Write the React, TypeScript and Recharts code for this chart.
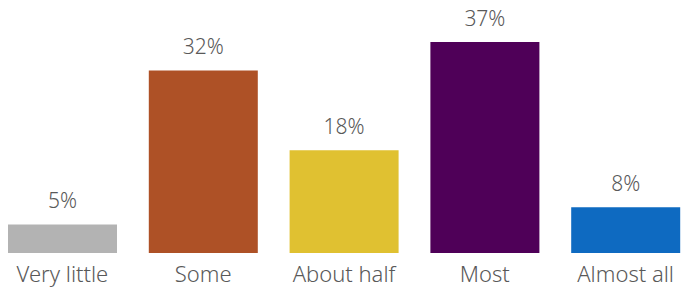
import { BarChart, Bar, XAxis, YAxis, Cell, LabelList } from 'recharts'

const categories = ['Very little', 'Some', 'About half', 'Most', 'Almost all']
const shares = [5, 32, 18, 37, 8]
const barColors = ['#b3b3b3', '#ae5126', '#e0c131', '#4f0058', '#0e6ac1']

const data = categories.map((name, i) => ({ name, value: shares[i] }))

export default function App() {
  return (
    <div style={{ position: 'absolute', left: -8, top: 0 }}>
      <BarChart width={704} height={291} data={data} margin={{ top: 2, right: 0, bottom: 0, left: 0 }} barCategoryGap={16}>
        <XAxis
          dataKey="name"
          axisLine={false}
          tickLine={false}
          tickSize={0}
          tickMargin={13}
          height={38}
          interval={0}
          tick={{ fill: '#595959', fontSize: 22, fontFamily: 'Noto Sans', fontWeight: 300 }}
        />
        <YAxis hide domain={[0, 44]} />
        <Bar dataKey="value" isAnimationActive={false}>
          {data.map((d, i) => <Cell key={d.name} fill={barColors[i]} />)}
          <LabelList dataKey="value" position="top" offset={16} formatter={(v: any) => `${v}%`}
            style={{ fill: '#595959', fontSize: 21, fontFamily: 'Noto Sans', fontWeight: 300 }} />
        </Bar>
      </BarChart>
    </div>
  )
}
